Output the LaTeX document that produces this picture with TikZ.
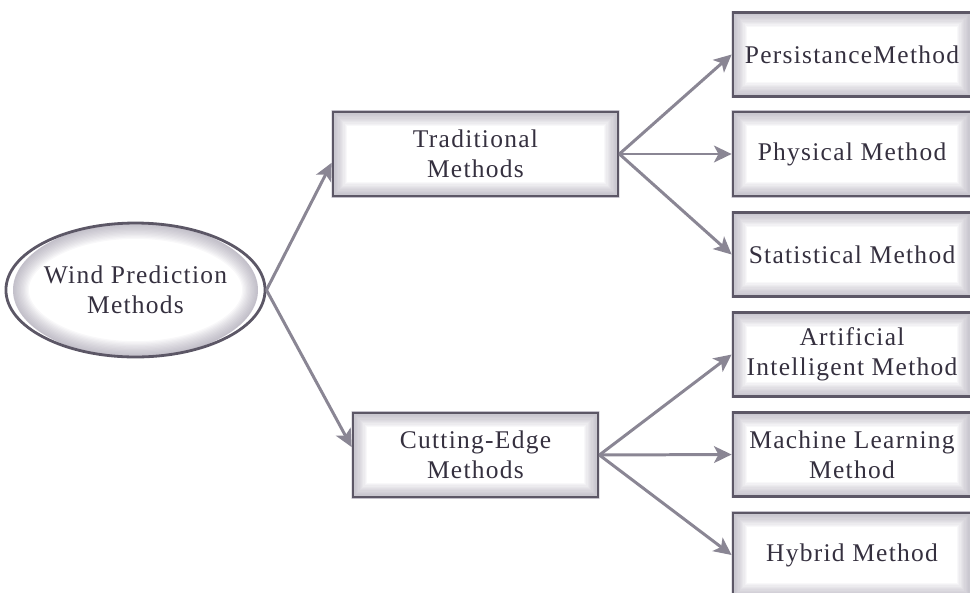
\documentclass[tikz,border=0pt]{standalone}
\usepackage{fontspec}
\setmainfont[LetterSpace=5]{Liberation Serif}
\usepackage{tikz}
\usetikzlibrary{arrows.meta, shapes.geometric, backgrounds}
\definecolor{boxline}{HTML}{5C5766}
\definecolor{arrowcol}{HTML}{8A8694}
\definecolor{glowcol}{HTML}{857F93}
\definecolor{textcol}{HTML}{35303F}
\tikzset{>={Stealth[length=10pt,width=9.5pt,inset=2.5pt]},
	methodbox/.style={draw=boxline, line width=1.6pt, rectangle, minimum height=1.68cm, inner sep=1pt, align=center, text=textcol, font=\fontsize{14.5}{17}\selectfont},
	rootnode/.style={draw=boxline, line width=1.6pt, ellipse, minimum width=4.9cm, minimum height=2.68cm, inner sep=0pt, align=center, text=textcol, font=\fontsize{14.5}{17}\selectfont},
	link/.style={->, draw=arrowcol, line width=1.7pt}}

\begin{document}
\begin{tikzpicture}[x=0.02cm, y=-0.02cm]
			\useasboundingbox (0,0) rectangle (970,592);
			
			\node[rootnode] (wind) at (135.5,290) {Wind Prediction\\Methods};
			\node[methodbox, minimum width=5.7cm] (trad) at (475.5,154) {Traditional\\Methods};
			\node[methodbox, minimum width=4.9cm] (cut) at (475.5,455) {Cutting-Edge\\Methods};
			
			\node[methodbox, minimum width=4.76cm] (pers) at (852,54.5) {PersistanceMethod};
			\node[methodbox, minimum width=4.76cm] (phys) at (852,154) {Physical Method};
			\node[methodbox, minimum width=4.76cm] (stat) at (852,254.5) {Statistical Method};
			\node[methodbox, minimum width=4.76cm] (ai) at (852,354.5) {Artificial\\Intelligent Method};
			\node[methodbox, minimum width=4.76cm] (ml) at (852,454.5) {Machine Learning\\Method};
			\node[methodbox, minimum width=4.76cm] (hyb) at (852,555) {Hybrid Method};
			
			% inner glow of the boxes
			\begin{scope}[on background layer]
			\foreach \n in {trad,cut,pers,phys,stat,ai,ml,hyb}{
				\begin{scope}
				\clip (\n.south west) rectangle (\n.north east);
				\foreach \w in {1,...,12}
					\draw[glowcol, line width=1.5*\w pt, opacity=0.055] (\n.south west) rectangle (\n.north east);
				\end{scope}
			}
			\begin{scope}
			\clip (wind.center) ellipse [x radius=2.45cm, y radius=1.34cm];
			\foreach \w in {1,...,12}
				\draw[glowcol, line width=1.5*\w pt, opacity=0.055] (wind.center) ellipse [x radius=2.45cm, y radius=1.34cm];
			\end{scope}
			\end{scope}
			
			\draw[link] (wind.east) -- ([yshift=-5pt]trad.west);
			\draw[link] (wind.east) -- ([yshift=4.5pt]cut.west);
			
			\draw[link] (trad.east) -- (pers.west);
			\draw[link] (trad.east) -- (phys.west);
			\draw[link] (trad.east) -- (stat.west);
			\draw[link] (cut.east) -- (ai.west);
			\draw[link] (cut.east) -- (ml.west);
			\draw[link] (cut.east) -- (hyb.west);
\end{tikzpicture}
\end{document}
